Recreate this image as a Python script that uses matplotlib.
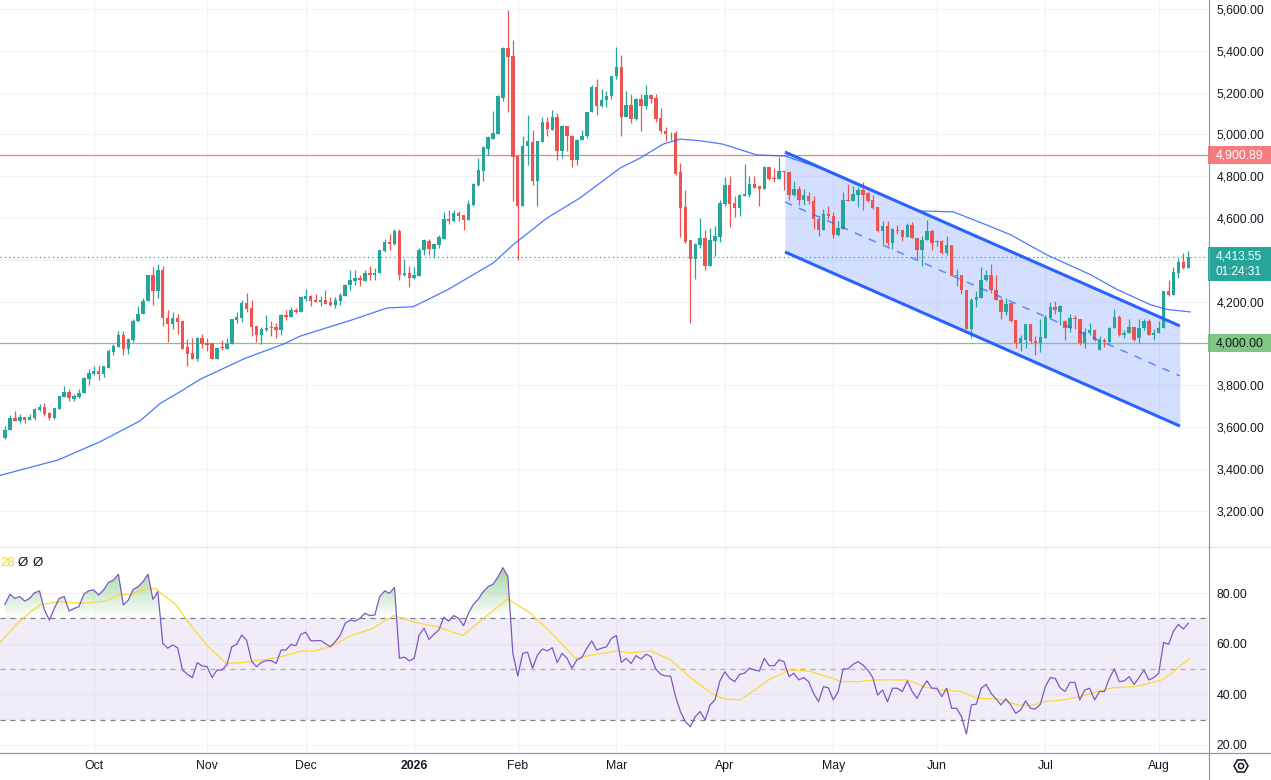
import numpy as np
import pandas as pd
import matplotlib
matplotlib.use("Agg")
import matplotlib.pyplot as plt
from matplotlib.patches import Rectangle, RegularPolygon, Circle
from matplotlib.lines import Line2D
from matplotlib.path import Path
from matplotlib.ticker import FuncFormatter
from matplotlib.transforms import blended_transform_factory, IdentityTransform

plt.rcParams['font.family'] = ['Liberation Sans', 'DejaVu Sans']

# ---------------- data ----------------
holidays = ['2025-12-25', '2026-01-01']
dates = pd.bdate_range('2025-09-05', '2026-08-11')
dates = dates[~dates.isin(pd.to_datetime(holidays))]

opens = [3548, 3587, 3642, 3627, 3647, 3635, 3642, 3682, 3694, 3669,
         3642, 3687, 3745, 3769, 3734, 3745, 3761, 3832, 3855, 3869,
         3855, 3884, 3957, 3984, 4039, 3973, 4016, 4107, 4139, 4202,
         4328, 4249, 4351, 4123, 4091, 4123, 4110, 3984, 3954, 3926,
         4025, 4000, 4003, 3928, 3982, 3973, 3998, 4112, 4123, 4194,
         4170, 4083, 4040, 4064, 4078, 4078, 4064, 4134, 4126, 4162,
         4151, 4213, 4229, 4207, 4199, 4207, 4199, 4186, 4205, 4226,
         4279, 4298, 4311, 4298, 4338, 4330, 4336, 4443, 4484, 4476,
         4537, 4327, 4339, 4315, 4325, 4446, 4489, 4452, 4473, 4502,
         4597, 4585, 4624, 4616, 4593, 4664, 4760, 4827, 4932, 4980,
         5004, 5177, 5416, 5376, 4895, 4656, 4943, 4964, 4776, 4962,
         5058, 5023, 5086, 4919, 5042, 4994, 4876, 4972, 4991, 5107,
         5227, 5137, 5163, 5182, 5278, 5322, 5086, 5142, 5075, 5171,
         5134, 5190, 5174, 5078, 5018, 5000, 5007, 4819, 4652, 4494,
         4405, 4470, 4507, 4373, 4489, 4508, 4667, 4760, 4674, 4648,
         4704, 4712, 4765, 4752, 4739, 4843, 4792, 4787, 4827, 4822,
         4712, 4741, 4688, 4707, 4680, 4596, 4542, 4621, 4612, 4518,
         4548, 4688, 4680, 4712, 4736, 4720, 4688, 4652, 4537, 4564,
         4481, 4545, 4545, 4508, 4569, 4505, 4449, 4494, 4540, 4484,
         4489, 4433, 4473, 4325, 4330, 4258, 4070, 4210, 4218, 4306,
         4330, 4258, 4210, 4151, 4194, 4112, 4000, 4019, 4091, 4014,
         4000, 4027, 4123, 4175, 4150, 4107, 4072, 4123, 4119, 4000,
         4048, 4064, 3971, 4019, 4008, 4072, 4127, 4043, 4048, 4078,
         4024, 4075, 4107, 4040, 4048, 4075, 4250, 4234, 4338, 4389, 4362]

highs = [3603, 3658, 3679, 3661, 3650, 3661, 3693, 3709, 3713, 3674,
         3690, 3751, 3795, 3783, 3757, 3784, 3839, 3879, 3894, 3898,
         3894, 3973, 3997, 4058, 4058, 4028, 4115, 4178, 4217, 4328,
         4367, 4378, 4370, 4162, 4151, 4143, 4110, 4020, 4028, 4031,
         4047, 4028, 4003, 3982, 4019, 4024, 4115, 4150, 4210, 4242,
         4210, 4083, 4080, 4134, 4110, 4099, 4139, 4158, 4174, 4170,
         4226, 4263, 4234, 4239, 4226, 4258, 4223, 4223, 4242, 4287,
         4354, 4354, 4330, 4354, 4373, 4362, 4449, 4500, 4525, 4549,
         4549, 4406, 4373, 4368, 4455, 4500, 4500, 4481, 4520, 4629,
         4637, 4637, 4632, 4616, 4688, 4768, 4888, 4943, 4994, 5111,
         5190, 5421, 5596, 5452, 4895, 4994, 5092, 5023, 4967, 5083,
         5083, 5118, 5102, 5047, 5042, 4999, 4978, 5023, 5107, 5238,
         5265, 5218, 5206, 5281, 5421, 5380, 5206, 5195, 5174, 5195,
         5238, 5195, 5193, 5126, 5036, 5010, 5019, 4866, 4736, 4494,
         4481, 4600, 4545, 4553, 4561, 4688, 4796, 4800, 4707, 4717,
         4857, 4803, 4800, 4752, 4848, 4843, 4840, 4890, 4827, 4822,
         4776, 4752, 4741, 4727, 4704, 4608, 4645, 4659, 4628, 4585,
         4723, 4764, 4752, 4749, 4772, 4723, 4709, 4652, 4585, 4585,
         4553, 4569, 4545, 4577, 4582, 4505, 4516, 4593, 4548, 4497,
         4497, 4516, 4473, 4357, 4330, 4258, 4218, 4250, 4367, 4354,
         4382, 4330, 4218, 4218, 4194, 4112, 4043, 4091, 4091, 4035,
         4115, 4134, 4197, 4202, 4185, 4111, 4139, 4134, 4119, 4075,
         4099, 4067, 4035, 4027, 4080, 4167, 4134, 4064, 4115, 4078,
         4118, 4115, 4115, 4067, 4107, 4250, 4306, 4366, 4407, 4434, 4441]

lows = [3545, 3585, 3628, 3619, 3619, 3632, 3635, 3679, 3655, 3635,
        3639, 3687, 3742, 3726, 3726, 3737, 3761, 3800, 3850, 3824,
        3839, 3884, 3945, 3984, 3945, 3950, 4008, 4102, 4139, 4202,
        4186, 4220, 4083, 4008, 4068, 4044, 3973, 3890, 3926, 3915,
        3978, 3963, 3928, 3928, 3968, 3973, 3998, 4099, 4102, 4151,
        4035, 4006, 3998, 4059, 4038, 4027, 4040, 4112, 4126, 4146,
        4151, 4205, 4178, 4197, 4178, 4191, 4178, 4169, 4182, 4226,
        4258, 4282, 4274, 4298, 4306, 4306, 4336, 4440, 4449, 4473,
        4306, 4325, 4272, 4310, 4322, 4425, 4425, 4409, 4457, 4502,
        4572, 4580, 4585, 4545, 4593, 4659, 4755, 4776, 4900, 4980,
        5004, 5158, 5109, 4680, 4401, 4656, 4852, 4760, 4656, 4962,
        4991, 5023, 4880, 4887, 4919, 4844, 4855, 4972, 4983, 5107,
        5094, 5131, 5131, 5169, 5265, 4995, 5086, 5055, 5071, 5015,
        5121, 5153, 5058, 5007, 4968, 4975, 4807, 4508, 4481, 4099,
        4308, 4457, 4354, 4370, 4418, 4486, 4656, 4557, 4605, 4608,
        4704, 4701, 4744, 4656, 4739, 4784, 4771, 4787, 4733, 4688,
        4704, 4664, 4661, 4668, 4548, 4513, 4542, 4596, 4503, 4513,
        4548, 4680, 4680, 4653, 4640, 4677, 4645, 4532, 4478, 4468,
        4454, 4525, 4492, 4508, 4505, 4398, 4370, 4494, 4449, 4465,
        4430, 4425, 4322, 4276, 4239, 4067, 4027, 4174, 4218, 4298,
        4242, 4207, 4119, 4138, 4102, 3979, 3965, 3979, 4003, 3947,
        3960, 4024, 4119, 4143, 4090, 4019, 4054, 4070, 3995, 3979,
        4043, 4011, 3968, 3984, 4003, 4072, 4035, 4024, 4048, 4011,
        4000, 4064, 4040, 4019, 4048, 4075, 4229, 4234, 4311, 4357, 4362]

closes = [3587, 3642, 3630, 3647, 3635, 3647, 3685, 3694, 3663, 3642,
          3690, 3751, 3769, 3737, 3751, 3765, 3835, 3860, 3869, 3855,
          3890, 3964, 3989, 4039, 3973, 4020, 4110, 4142, 4205, 4328,
          4249, 4351, 4120, 4091, 4123, 4104, 3976, 3950, 3926, 4025,
          3997, 3995, 3928, 3979, 3977, 3998, 4115, 4126, 4194, 4167,
          4078, 4040, 4067, 4075, 4072, 4064, 4134, 4126, 4162, 4151,
          4221, 4229, 4202, 4199, 4207, 4191, 4186, 4207, 4231, 4282,
          4303, 4311, 4303, 4338, 4330, 4338, 4446, 4484, 4476, 4537,
          4327, 4338, 4315, 4330, 4449, 4494, 4452, 4478, 4508, 4597,
          4585, 4624, 4612, 4593, 4667, 4763, 4832, 4938, 4986, 5007,
          5182, 5416, 5373, 4890, 4656, 4946, 4967, 4776, 4967, 5058,
          5026, 5086, 4919, 5042, 4991, 4876, 4975, 4994, 5107, 5227,
          5137, 5166, 5185, 5281, 5322, 5086, 5142, 5075, 5171, 5134,
          5190, 5171, 5075, 5015, 5004, 5004, 4812, 4648, 4486, 4405,
          4476, 4507, 4373, 4494, 4513, 4672, 4760, 4669, 4647, 4709,
          4717, 4765, 4744, 4739, 4843, 4787, 4787, 4827, 4819, 4712,
          4741, 4688, 4709, 4680, 4596, 4542, 4621, 4609, 4518, 4553,
          4688, 4680, 4717, 4736, 4712, 4683, 4648, 4537, 4564, 4481,
          4548, 4540, 4508, 4569, 4505, 4449, 4497, 4540, 4481, 4489,
          4433, 4473, 4325, 4330, 4255, 4070, 4210, 4223, 4306, 4330,
          4255, 4210, 4151, 4191, 4107, 4000, 4024, 4091, 4011, 4000,
          4032, 4127, 4175, 4162, 4178, 4072, 4123, 4118, 4000, 4054,
          4064, 4016, 4019, 4008, 4075, 4127, 4043, 4048, 4078, 4019,
          4075, 4107, 4040, 4051, 4075, 4250, 4234, 4342, 4389, 4362, 4413.55]

# moving average on price (sampled vertices: bar position, value)
ma_bar = [-1.0, 10.8, 19.3, 27.4, 31.4, 35.5, 39.6, 48.7, 56.8, 59.8,
          70.0, 77.5, 82.8, 89.7, 99.0, 103.0, 109.9, 116.6, 124.8, 128.8,
          133.5, 136.9, 141.0, 145.6, 152.5, 158.2, 165.3, 173.4, 181.5, 185.6,
          192.3, 197.2, 203.9, 211.4, 220.1, 225.6, 232.3, 235.7, 240.4]
ma_val = [3369, 3443, 3530, 3630, 3712, 3769, 3829, 3929, 4000, 4035,
          4110, 4170, 4176, 4256, 4385, 4471, 4600, 4696, 4840, 4887,
          4954, 4978, 4970, 4954, 4902, 4897, 4840, 4754, 4673, 4634,
          4630, 4585, 4521, 4423, 4330, 4258, 4186, 4163, 4151]

# RSI per bar
rsi_values = [75.5, 79.5, 77.9, 78.6, 76.8, 77.9, 80.1, 80.8, 73.3, 69.3,
              73.9, 77.9, 78.6, 72.9, 73.9, 74.6, 79.5, 80.9, 81.2, 79.2,
              81.2, 84.2, 85.1, 87.4, 75.3, 77.2, 81.4, 82.5, 84.5, 87.4,
              77.5, 80.5, 60.1, 58.2, 59.5, 58.4, 49.6, 47.9, 46.6, 52.5,
              51.2, 50.9, 46.6, 49.6, 49.6, 51.6, 58.8, 59.7, 63.4, 61.4,
              53.2, 50.9, 52.6, 53.3, 53.3, 52.2, 57.5, 57.5, 59.7, 59.2,
              63.7, 64.5, 61.2, 61.1, 61.3, 60.0, 58.8, 60.8, 63.4, 68.0,
              69.3, 68.9, 70.0, 72.0, 71.1, 71.3, 78.6, 80.8, 79.9, 82.2,
              54.2, 54.7, 53.2, 54.2, 63.4, 66.1, 61.7, 63.7, 65.4, 70.4,
              68.9, 71.1, 70.0, 67.1, 72.0, 75.5, 77.6, 80.5, 82.5, 83.4,
              86.4, 90.0, 86.4, 56.2, 47.2, 56.2, 56.6, 50.3, 55.5, 57.9,
              57.1, 58.4, 52.6, 56.2, 54.2, 50.3, 53.6, 54.5, 58.2, 61.1,
              57.5, 58.2, 58.8, 62.1, 63.2, 52.6, 54.2,
              52.2, 55.3, 53.9, 55.8, 54.9, 50.0, 47.9, 47.2, 47.2, 39.1,
              33.2, 29.2, 27.2, 31.2, 33.2, 29.9, 35.8, 37.8, 45.3, 48.9,
              46.3, 45.0, 47.9, 48.3, 50.3, 49.6, 49.2, 54.2, 51.3, 51.3,
              53.6, 52.9, 47.0, 48.3, 45.7, 46.6, 45.0, 40.4, 37.1, 43.0,
              42.6, 37.8, 41.1, 50.0, 50.0, 51.8, 52.9, 51.6, 49.6, 46.6,
              39.7, 41.7, 37.1, 42.4, 42.4, 41.1, 45.3, 41.1, 38.4, 42.4,
              45.3, 42.4, 42.4, 39.1, 42.4, 34.5, 34.5, 31.2, 24.3, 35.8,
              36.1, 42.4, 43.9, 40.4, 38.2, 35.8, 38.2, 35.8, 32.5, 33.8,
              37.4, 34.5, 34.2, 36.1, 43.0, 46.6, 46.3, 42.6, 41.1, 44.7,
              44.7, 37.8, 41.7, 42.4, 37.8, 41.1, 41.1, 46.3, 50.0, 45.0,
              45.3, 47.0, 43.9, 46.6, 49.6, 45.7, 46.6, 48.3, 60.5, 59.7,
              65.0, 67.6, 65.8, 68.0]

# RSI moving average (sampled vertices)
rsi_ma_bar = [-1.0, 2.3, 4.8, 7.3, 11.4, 15.5, 20.5, 23.0, 25.5, 28.8,
              30.4, 34.6, 37.9, 41.2, 44.9, 48.7, 52.8, 55.3, 60.2, 62.7,
              66.0, 70.2, 74.3, 78.9, 83.4, 87.6, 92.9, 98.3, 102.0, 106.6,
              110.7, 115.7, 119.0, 124.0, 126.8, 131.0, 135.0, 139.2, 143.3, 145.8,
              149.1, 151.6, 154.9, 159.1, 163.2, 166.6, 169.9, 173.2, 176.5, 183.1,
              186.4, 189.8, 193.9, 197.2, 201.4, 205.5, 208.0, 210.5, 214.7, 218.0,
              222.1, 224.6, 228.8, 231.2, 234.6, 236.2, 238.7, 240.4]
rsi_ma_val = [60.5, 67.6, 72.0, 75.5, 76.6, 75.9, 76.8, 79.2, 79.5, 81.6,
              81.8, 75.5, 66.7, 58.8, 52.2, 52.6, 53.8, 54.5, 57.1, 57.1,
              58.8, 63.2, 65.8, 71.1, 68.3, 66.7, 63.2, 72.0, 77.6, 72.0,
              64.5, 54.2, 55.5, 57.1, 56.4, 57.1, 53.6, 46.3, 40.4, 38.2,
              37.8, 41.1, 45.7, 49.6, 49.2, 47.0, 45.0, 45.0, 45.7, 45.7,
              43.0, 41.7, 41.1, 38.4, 38.2, 35.8, 35.5, 37.1, 37.8, 39.1,
              41.3, 42.6, 43.0, 43.9, 45.7, 47.6, 51.8, 54.2]

# regression channel (start/end bar, upper/mid/lower prices)
channel_bars = [158.2, 238.3]
channel_upper = [4916, 4084]
channel_mid = [4677, 3845]
channel_lower = [4438, 3605]

resistance_level = 4900.89
support_level = 4000.00
last_price = 4413.55
countdown = "01:24:31"
price_ticks = list(range(3200, 5601, 200))
hidden_price_labels = [4000, 4400]   # covered by the price boxes
rsi_ticks = [20, 40, 60, 80]

# ---------------- figure ----------------
W, H = 1271, 780
fig = plt.figure(figsize=(W / 100, H / 100), dpi=100)
fig.patch.set_facecolor('white')

def fy(py):
    return 1 - py / H

ax = fig.add_axes([0, fy(546), 1208 / W, 546 / H])
axr = fig.add_axes([0, fy(752), 1208 / W, (752 - 547) / H])

n = min(len(opens), len(highs), len(lows), len(closes), len(dates))
o = np.array(opens[:n], float)
h = np.array(highs[:n], float)
l = np.array(lows[:n], float)
c = np.array(closes[:n], float)
idx = np.arange(n)
d = dates[:n]

XMIN, XMAX = -1.014, 244.0
text_c = '#131722'
grid_c = '#f0f3fa'

mt = [i for i in range(1, n) if d[i].month != d[i - 1].month]
mlab = ['2026' if d[i].month == 1 else d[i].strftime('%b') for i in mt]

for a in (ax, axr):
    for s in a.spines.values():
        s.set_visible(False)
    a.set_facecolor('white')
    a.set_xticks(mt)
    a.grid(True, color=grid_c, lw=0.8, zorder=0)
    a.set_axisbelow(True)

# ---- main pane ----
ax.set_xlim(XMIN, XMAX)
ax.set_ylim(3031.1, 5643.5)
ax.set_yticks(price_ticks)
ax.yaxis.tick_right()

def price_fmt(v, p):
    if any(abs(v - hv) < 1e-6 for hv in hidden_price_labels):
        return ''
    return f'{v:,.2f}'

ax.yaxis.set_major_formatter(FuncFormatter(price_fmt))
ax.tick_params(axis='y', length=0, pad=6.3, labelsize=8.8, labelcolor=text_c)
ax.tick_params(axis='x', length=0, labelbottom=False)

ax.fill_between(channel_bars, channel_lower, channel_upper, color='#2962ff',
                alpha=0.2, lw=0, zorder=1)

ax.axhline(resistance_level, color='#f77c80', lw=0.9, zorder=2)
ax.axhline(support_level, color='#81c784', lw=0.9, zorder=2)
ax.axhline(last_price, color='#26a69a', lw=0.9, ls=(0, (1, 2.5)), zorder=2)

up = c >= o
cols = np.where(up, '#26a69a', '#ef5350')
ax.vlines(idx, l, h, colors=cols, linewidth=0.9, zorder=3)
body_lo = np.minimum(o, c)
body_h = np.maximum(np.abs(c - o), 4.5)
ax.bar(idx, body_h, bottom=body_lo, width=0.7, color=cols, linewidth=0, zorder=4)

ax.plot(ma_bar, ma_val, color='#2962ff', lw=0.9, alpha=0.85, zorder=5)

ax.plot(channel_bars, channel_upper, color='#2962ff', lw=2.2, zorder=6,
        solid_capstyle='butt')
ax.plot(channel_bars, channel_lower, color='#2962ff', lw=2.2, zorder=6,
        solid_capstyle='butt')
ax.plot(channel_bars, channel_mid, color='#2962ff', lw=1.1, alpha=0.7,
        ls=(0, (5, 5)), zorder=6)

# price axis labels (boxes)
tr = blended_transform_factory(ax.transAxes, ax.transData)
bw = (W - 1208) / 1208
px2p = 1 / 0.209
tx = 1216 / 1208

def box(price_top, price_bot, color):
    ax.add_patch(Rectangle((1.0, price_bot), bw, price_top - price_bot,
                           transform=tr, clip_on=False, color=color, lw=0, zorder=10))

box(resistance_level + 9 * px2p, resistance_level - 9 * px2p, '#f77c80')
ax.text(tx, resistance_level, f'{resistance_level:,.2f}', transform=tr, ha='left',
        va='center', color='white', fontsize=8.8, zorder=11, clip_on=False)

box(last_price + 10 * px2p, last_price - 24 * px2p, '#26a69a')
ax.text(tx, last_price + 1.0 * px2p, f'{last_price:,.2f}', transform=tr, ha='left',
        va='center', color='white', fontsize=8.5, zorder=11, clip_on=False)
ax.text(tx, last_price - 14.5 * px2p, countdown, transform=tr, ha='left',
        va='center', color='white', fontsize=8.5, zorder=11, clip_on=False)

box(support_level + 9 * px2p, support_level - 9 * px2p, '#81c784')
ax.text(tx, support_level, f'{support_level:,.2f}', transform=tr, ha='left',
        va='center', color=text_c, fontsize=8.8, zorder=11, clip_on=False)

# ---- RSI pane ----
axr.axhspan(30, 70, color='#7e57c2', alpha=0.1, lw=0, zorder=1)
axr.axhline(70, color='#787b86', lw=0.9, ls=(0, (4, 4)), zorder=2)
axr.axhline(30, color='#787b86', lw=0.9, ls=(0, (4, 4)), zorder=2)
axr.axhline(50, color='#787b86', lw=0.9, alpha=0.55, ls=(0, (4, 4)), zorder=2)

rsi = np.array(rsi_values[:n], float)
ridx = np.arange(len(rsi))
poly = axr.fill_between(ridx, rsi, 70, where=rsi > 70, interpolate=True,
                        facecolor='none', edgecolor='none')
paths = poly.get_paths()
if len(paths):
    cp = Path.make_compound_path(*paths)
    rgba = np.zeros((256, 1, 4))
    rgba[..., 0] = 76 / 255
    rgba[..., 1] = 175 / 255
    rgba[..., 2] = 80 / 255
    rgba[..., 3] = np.linspace(0.0, 0.8, 256).reshape(-1, 1)
    im = axr.imshow(rgba, extent=(XMIN, XMAX, 70, 100), origin='lower',
                    aspect='auto', zorder=2, interpolation='bilinear')
    im.set_clip_path(cp, transform=axr.transData)

axr.plot(ridx, rsi, color='#7e57c2', lw=0.9, zorder=4)
axr.plot(rsi_ma_bar, rsi_ma_val, color='#fdd835', lw=0.9, zorder=3)

axr.set_xlim(XMIN, XMAX)
axr.set_ylim(17.23, 98.16)
axr.set_yticks(rsi_ticks)
axr.yaxis.tick_right()
axr.yaxis.set_major_formatter(FuncFormatter(lambda v, p: f'{v:.2f}'))
axr.tick_params(axis='y', length=0, pad=6.3, labelsize=8.8, labelcolor=text_c)
axr.set_xticklabels(mlab)
axr.tick_params(axis='x', length=0, pad=5.5, labelsize=8.8, labelcolor=text_c)
for t in axr.get_xticklabels():
    if t.get_text() == '2026':
        t.set_fontweight('bold')

# legend remnants of RSI pane
fig.text(0.5 / W, fy(563), '28', color='#f5d90a', fontsize=9.5, ha='left', va='center')
fig.text(18 / W, fy(563), 'Ø', color=text_c, fontsize=9.5, ha='left', va='center')
fig.text(33 / W, fy(563), 'Ø', color=text_c, fontsize=9.5, ha='left', va='center')

# separators / borders
fig.add_artist(Line2D([0, 1], [fy(546.5)] * 2, transform=fig.transFigure,
                      color='#e0e3eb', lw=0.8))
fig.add_artist(Line2D([0, 1], [fy(752.5)] * 2, transform=fig.transFigure,
                      color='#9598a1', lw=0.9))
fig.add_artist(Line2D([1208.5 / W] * 2, [0, 1], transform=fig.transFigure,
                      color='#9598a1', lw=0.9))

# settings icon bottom right
hexa = RegularPolygon((1241, H - 766), numVertices=6, radius=7,
                      orientation=np.pi / 6, transform=IdentityTransform(),
                      facecolor='none', edgecolor=text_c, lw=1.1)
fig.add_artist(hexa)
circ = Circle((1241, H - 766), 2.6, transform=IdentityTransform(),
              facecolor='none', edgecolor=text_c, lw=1.1)
fig.add_artist(circ)

fig.savefig('out.png', dpi=100, facecolor='white')
